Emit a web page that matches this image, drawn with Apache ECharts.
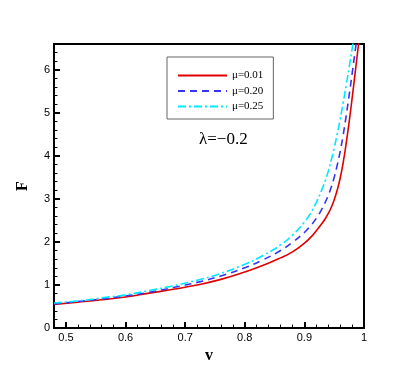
<!DOCTYPE html>
<html>
<head>
<meta charset="utf-8">
<script src="https://cdn.jsdelivr.net/npm/echarts@6/dist/echarts.min.js"></script>
<style>
    html, body { margin: 0; padding: 0; background: #fff; }
    #chart { width: 415px; height: 369px; }
</style>
</head>
<body>
<div id="chart"></div>
<script>
    //曲线数据 (v, F)
    var redV = [0.48, 0.52, 0.56, 0.60, 0.64, 0.68, 0.72, 0.76, 0.80, 0.83, 0.86, 0.88, 0.90, 0.91, 0.92, 0.93, 0.935, 0.94, 0.945, 0.95, 0.955, 0.96, 0.965, 0.97, 0.975, 0.98, 0.985, 0.99, 0.995];
    var redF = [0.55, 0.60, 0.655, 0.72, 0.81, 0.90, 1.00, 1.13, 1.30, 1.45, 1.63, 1.77, 1.97, 2.10, 2.26, 2.44, 2.54, 2.66, 2.80, 2.98, 3.20, 3.48, 3.84, 4.28, 4.78, 5.33, 5.91, 6.50, 7.08];

    var blueV = [0.48, 0.52, 0.56, 0.60, 0.64, 0.68, 0.72, 0.76, 0.80, 0.83, 0.86, 0.88, 0.90, 0.91, 0.92, 0.93, 0.935, 0.94, 0.945, 0.95, 0.955, 0.96, 0.965, 0.97, 0.975, 0.98, 0.985, 0.99];
    var blueF = [0.56, 0.615, 0.675, 0.745, 0.83, 0.94, 1.06, 1.21, 1.40, 1.58, 1.80, 1.99, 2.22, 2.37, 2.55, 2.78, 2.92, 3.08, 3.27, 3.50, 3.78, 4.10, 4.48, 4.92, 5.40, 5.90, 6.42, 6.92];

    var cyanV = [0.48, 0.52, 0.56, 0.60, 0.64, 0.68, 0.72, 0.76, 0.80, 0.83, 0.86, 0.88, 0.90, 0.91, 0.92, 0.93, 0.935, 0.94, 0.945, 0.95, 0.955, 0.96, 0.965, 0.97, 0.975, 0.98, 0.985];
    var cyanF = [0.58, 0.63, 0.70, 0.77, 0.87, 0.98, 1.11, 1.27, 1.48, 1.68, 1.93, 2.16, 2.46, 2.66, 2.92, 3.24, 3.42, 3.64, 3.90, 4.18, 4.50, 4.85, 5.23, 5.63, 6.05, 6.48, 6.92];

    var seriesNames = ['μ=0.01', 'μ=0.20', 'μ=0.25'];
    var xTickLabels = [0.5, 0.6, 0.7, 0.8, 0.9, 1];

    function toPairs(xs, ys) {
        var out = [];
        for (var i = 0; i < xs.length; i++) {
            out.push([xs[i], ys[i]]);
        }
        return out;
    }

    var labelFont = 'Liberation Sans';
    var serifFont = 'Liberation Serif';

    var chart = echarts.init(document.getElementById('chart'), null, { renderer: 'canvas' });

    var option = {
        animation: false,
        backgroundColor: '#fff',
        grid: {
            left: 54,
            right: 51,
            top: 44,
            bottom: 41,
            show: true,
            borderColor: '#000',
            borderWidth: 2
        },
        legend: {
            orient: 'vertical',
            left: 167,
            top: 57,
            width: 104,
            padding: [13, 10, 7, 10],
            borderColor: '#666',
            borderWidth: 1,
            itemWidth: 49,
            itemHeight: 10,
            itemGap: 4.5,
            itemStyle: { opacity: 0 },
            textStyle: {
                fontFamily: serifFont,
                fontSize: 11,
                color: '#000'
            },
            data: seriesNames
        },
        xAxis: [{
            type: 'value',
            min: 0.48,
            max: 1,
            position: 'bottom',
            name: 'v',
            nameLocation: 'middle',
            nameGap: 11,
            nameTextStyle: {
                fontFamily: serifFont,
                fontWeight: 'bold',
                fontSize: 16,
                color: '#000'
            },
            axisLine: { show: true, lineStyle: { color: '#000', width: 2 } },
            axisTick: {
                show: true,
                inside: true,
                length: 6,
                customValues: xTickLabels,
                lineStyle: { color: '#000', width: 2 }
            },
            axisLabel: {
                customValues: xTickLabels,
                fontFamily: labelFont,
                fontSize: 11,
                color: '#000',
                margin: 4,
                formatter: function (v) { return String(+v.toFixed(2)); }
            },
            splitLine: { show: false }
        }, {
            //次刻度
            type: 'value',
            min: 0.48,
            max: 1,
            interval: 0.02,
            position: 'bottom',
            axisLine: { show: false },
            axisTick: { show: true, inside: true, length: 3.5, lineStyle: { color: '#000', width: 1 } },
            axisLabel: { show: false },
            splitLine: { show: false }
        }],
        yAxis: [{
            type: 'value',
            min: 0,
            max: 6.6,
            interval: 1,
            position: 'left',
            name: 'F',
            nameLocation: 'middle',
            nameGap: 23,
            nameRotate: 90,
            nameTextStyle: {
                fontFamily: serifFont,
                fontWeight: 'bold',
                fontSize: 16,
                color: '#000'
            },
            axisLine: { show: true, lineStyle: { color: '#000', width: 2 } },
            axisTick: { show: true, inside: true, length: 6, lineStyle: { color: '#000', width: 2 } },
            axisLabel: {
                fontFamily: labelFont,
                fontSize: 11,
                color: '#000',
                margin: 4,
                showMaxLabel: false
            },
            splitLine: { show: false }
        }, {
            type: 'value',
            min: 0,
            max: 6.6,
            interval: 0.2,
            position: 'left',
            axisLine: { show: false },
            axisTick: { show: true, inside: true, length: 3.5, lineStyle: { color: '#000', width: 1 } },
            axisLabel: { show: false },
            splitLine: { show: false }
        }],
        graphic: [{
            type: 'text',
            left: 199,
            top: 131,
            style: {
                text: 'λ=−0.2',
                fontFamily: serifFont,
                fontSize: 17,
                fill: '#000'
            }
        }],
        series: [{
            name: seriesNames[0],
            type: 'line',
            smooth: true,
            symbol: 'none',
            clip: true,
            lineStyle: { color: '#e00000', width: 1.6, type: 'solid' },
            itemStyle: { color: '#e00000' },
            data: toPairs(redV, redF)
        }, {
            name: seriesNames[1],
            type: 'line',
            smooth: true,
            symbol: 'none',
            clip: true,
            lineStyle: { color: '#3535ee', width: 1.6, type: [7, 5] },
            itemStyle: { color: '#3535ee' },
            data: toPairs(blueV, blueF)
        }, {
            name: seriesNames[2],
            type: 'line',
            smooth: true,
            symbol: 'none',
            clip: true,
            lineStyle: { color: '#00e8ff', width: 1.6, type: [8, 3, 2, 3] },
            itemStyle: { color: '#00e8ff' },
            data: toPairs(cyanV, cyanF)
        }]
    };

    chart.setOption(option);
</script>
</body>
</html>
